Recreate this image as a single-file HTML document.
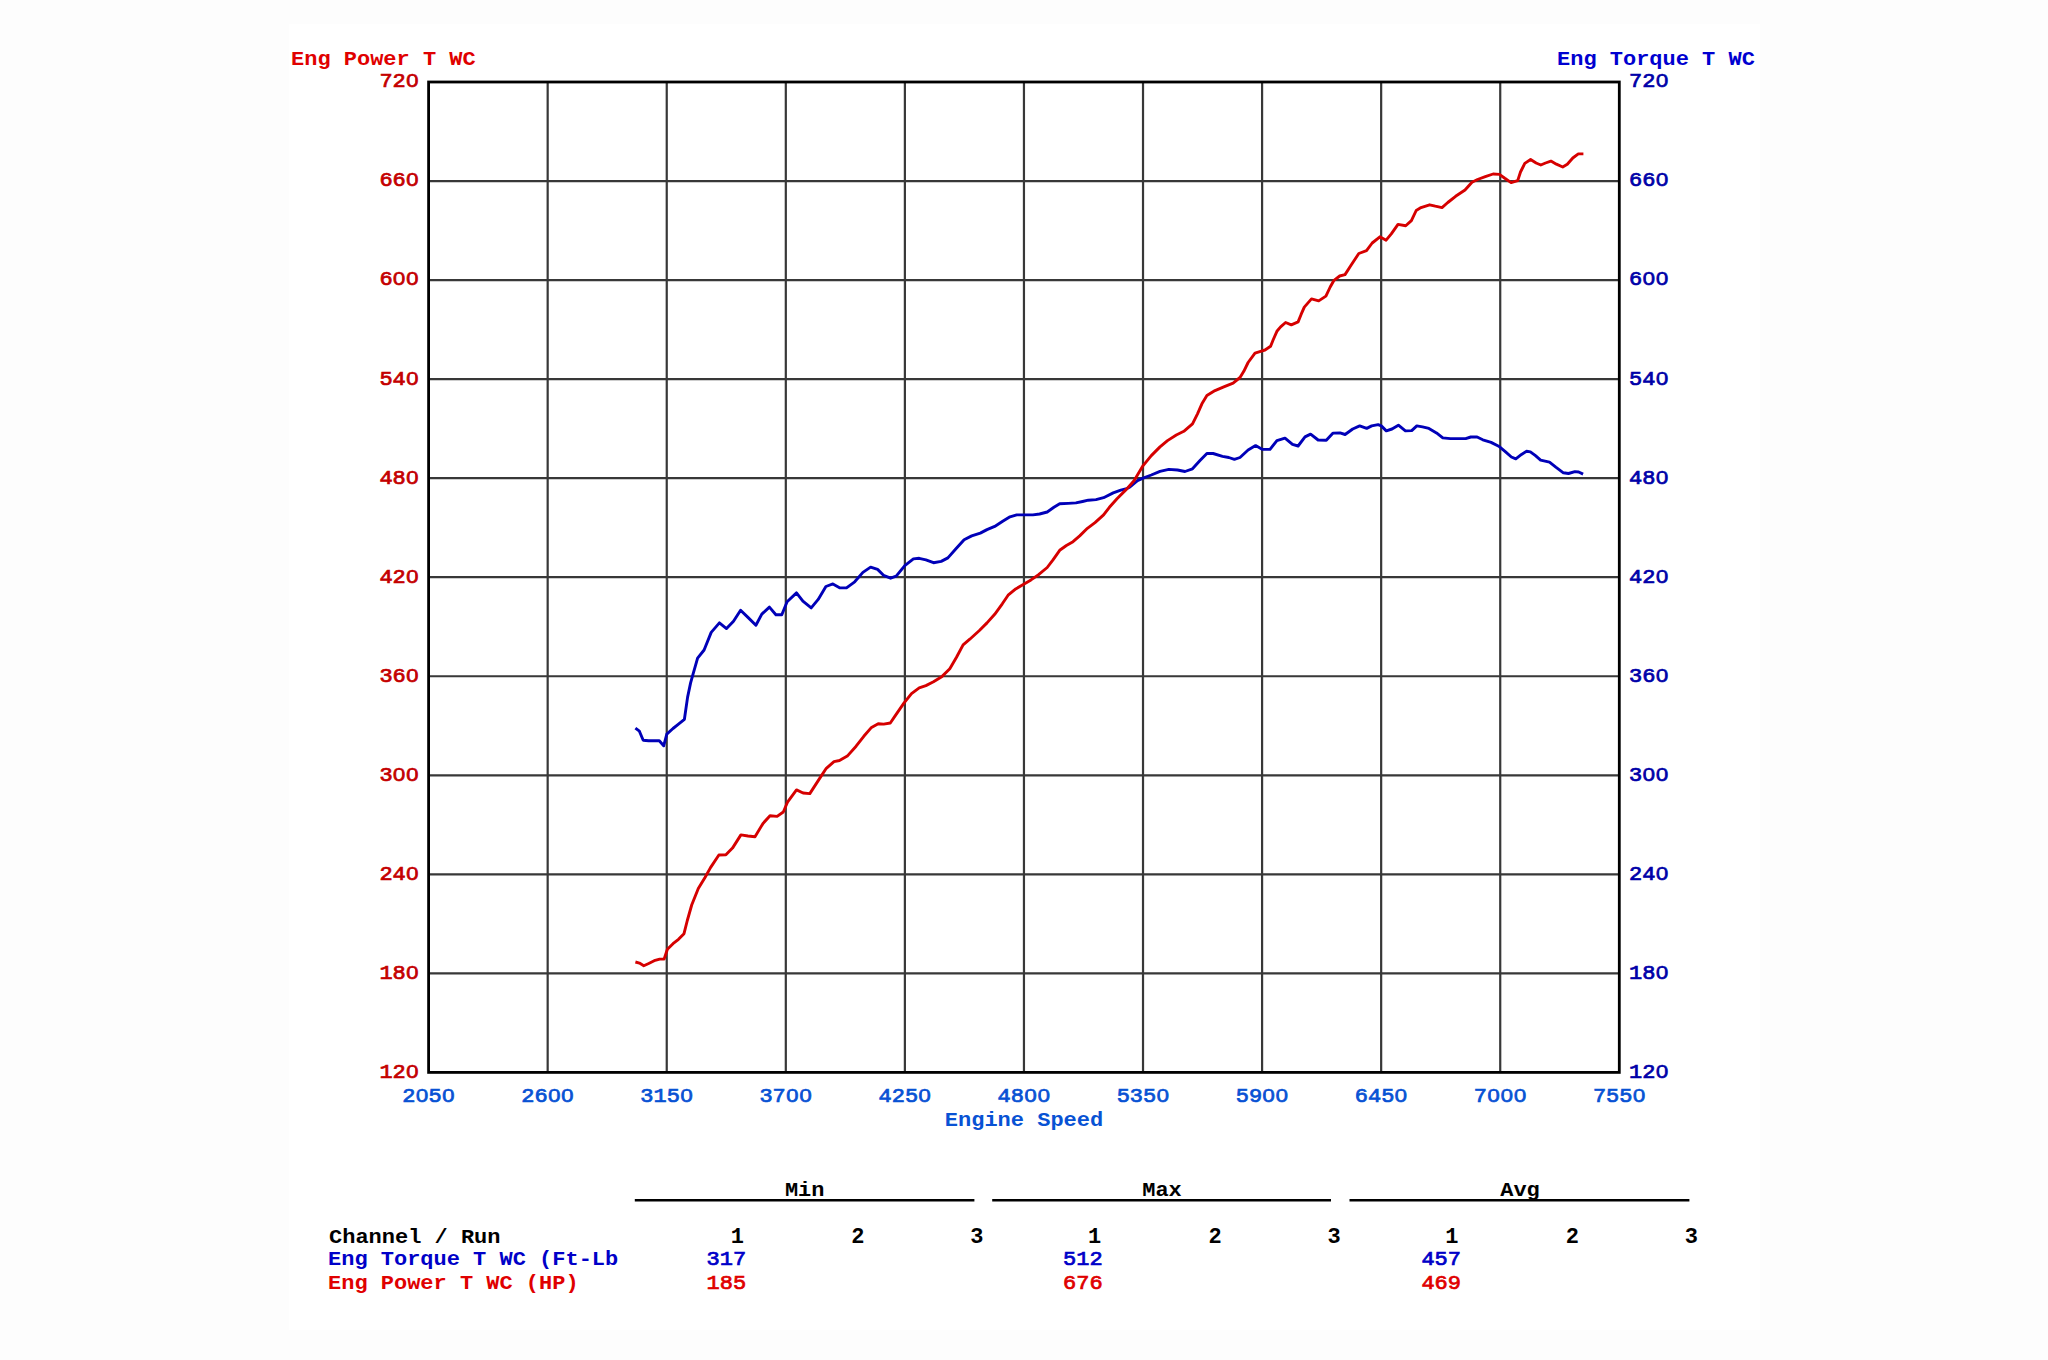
<!DOCTYPE html>
<html><head><meta charset="utf-8"><title>Dyno chart</title>
<style>html,body{margin:0;padding:0;background:#fff;width:2048px;height:1360px;overflow:hidden}svg{display:block}text{font-family:"Liberation Mono", monospace;font-weight:bold;font-size:22px}</style>
</head><body>
<svg width="2048" height="1360" viewBox="0 0 2048 1360">
<rect x="0" y="0" width="2048" height="1360" fill="#fdfdfd"/>
<rect x="289" y="24" width="1471" height="1306" fill="#ffffff"/>
<path d="M547.67 82.00V1072.40M428.60 181.04H1619.30M666.74 82.00V1072.40M428.60 280.08H1619.30M785.81 82.00V1072.40M428.60 379.12H1619.30M904.88 82.00V1072.40M428.60 478.16H1619.30M1023.95 82.00V1072.40M428.60 577.20H1619.30M1143.02 82.00V1072.40M428.60 676.24H1619.30M1262.09 82.00V1072.40M428.60 775.28H1619.30M1381.16 82.00V1072.40M428.60 874.32H1619.30M1500.23 82.00V1072.40M428.60 973.36H1619.30" stroke="#383838" stroke-width="2.2" fill="none"/>
<rect x="428.60" y="82.00" width="1190.70" height="990.40" stroke="#000" stroke-width="2.8" fill="none"/>
<polyline points="635.4,728.1 639.4,731.2 643.2,740.2 648.7,740.7 659.3,740.7 663.7,745.8 666.8,734.1 673.0,728.5 678.5,724.1 684.4,719.3 687.6,697.1 690.6,682.9 692.9,674.7 697.6,658.2 704.1,650.0 711.2,632.4 719.4,622.9 726.5,628.6 733.5,621.2 740.6,610.2 748.2,617.6 755.9,625.3 761.8,614.1 769.4,607.1 775.9,614.7 781.8,614.7 787.1,601.8 796.5,592.9 802.9,601.2 811.2,607.9 818.2,599.4 825.9,586.5 832.9,583.9 840.0,587.9 846.5,587.9 854.7,581.8 862.9,572.4 870.6,567.1 877.6,569.4 883.5,575.3 890.6,578.2 896.2,576.1 904.8,565.6 913.4,558.9 919.2,558.3 925.9,559.8 933.5,562.7 941.2,561.4 947.9,557.9 955.5,549.3 964.1,539.8 971.7,535.9 980.3,533.1 987.0,529.6 994.7,526.4 1002.3,521.6 1010.0,516.8 1016.7,514.9 1025.3,514.9 1032.9,514.9 1039.6,514.0 1047.2,512.0 1053.9,507.3 1059.7,503.8 1068.3,503.4 1075.9,502.9 1082.6,501.5 1088.3,500.2 1096.0,499.6 1103.6,497.7 1113.2,492.9 1120.8,490.1 1126.6,488.7 1130.0,486.9 1137.5,480.6 1143.1,478.1 1151.3,475.0 1160.0,471.3 1168.8,469.4 1177.5,470.0 1185.0,471.5 1192.5,468.8 1200.0,460.6 1206.9,453.5 1213.1,453.5 1222.5,456.3 1228.8,457.5 1234.4,459.4 1240.0,457.5 1248.1,450.0 1255.6,445.6 1262.5,449.4 1270.0,449.4 1276.9,440.6 1285.0,438.1 1292.5,444.4 1298.1,446.0 1305.0,436.9 1310.6,434.1 1318.1,440.0 1326.3,440.3 1333.1,433.1 1340.0,432.9 1345.1,434.5 1352.7,429.0 1359.7,425.9 1366.7,428.4 1371.7,425.9 1378.1,424.6 1381.3,425.9 1386.3,430.9 1392.0,429.0 1398.4,425.2 1405.4,430.9 1411.7,430.6 1416.8,425.9 1422.5,426.9 1428.9,428.4 1436.5,432.9 1442.8,437.9 1450.4,438.6 1465.7,438.6 1470.8,437.0 1477.1,437.0 1482.8,439.8 1491.1,442.4 1498.7,446.2 1505.0,451.3 1511.4,457.0 1515.8,458.9 1521.5,454.4 1526.6,451.3 1530.4,451.9 1535.5,455.7 1540.6,460.1 1549.5,462.1 1555.8,467.1 1563.4,472.8 1568.5,473.5 1574.9,471.6 1578.7,472.0 1583.1,474.1" stroke="#0000b8" stroke-width="2.9" fill="none" stroke-linejoin="round" stroke-linecap="butt"/>
<polyline points="635.4,962.0 639.4,963.1 643.8,965.7 648.7,963.5 654.2,960.7 659.7,959.1 664.1,959.1 667.4,949.2 673.0,943.7 678.5,939.3 684.0,933.7 687.3,920.5 691.7,905.0 698.3,888.5 705.0,877.5 710.5,867.6 718.9,855.0 725.9,854.8 732.5,848.1 740.9,834.9 748.0,836.0 755.0,836.7 763.0,823.4 770.0,815.7 777.1,816.4 783.3,812.0 787.7,801.8 796.5,789.9 803.1,793.0 809.8,793.6 820.8,776.6 826.3,768.3 834.0,761.6 839.5,760.5 847.3,756.1 856.1,746.2 863.8,736.3 871.5,727.4 878.2,723.7 883.7,724.1 890.3,723.0 895.3,715.6 903.9,703.2 911.5,693.6 919.2,687.9 925.9,685.6 933.5,681.8 942.1,676.4 949.8,668.8 956.5,657.3 963.1,644.9 969.8,639.2 979.4,630.5 987.0,622.9 994.7,614.3 1002.3,603.8 1008.1,595.2 1015.7,588.9 1023.7,584.3 1031.0,579.9 1038.6,574.7 1047.2,567.5 1053.0,559.8 1059.7,550.3 1066.4,545.5 1073.0,541.7 1079.7,535.9 1087.4,528.3 1095.0,522.6 1103.6,514.9 1109.4,507.3 1117.0,498.7 1126.6,489.1 1134.2,480.5 1143.1,465.6 1151.3,455.6 1160.0,446.9 1167.5,440.6 1176.3,435.0 1183.8,431.3 1192.5,423.8 1197.5,413.8 1201.9,403.8 1206.9,395.6 1215.0,390.6 1223.8,386.9 1233.1,383.1 1240.0,377.5 1243.8,371.3 1248.1,362.5 1255.0,353.1 1260.6,351.3 1265.0,350.0 1270.6,346.3 1273.1,340.0 1276.9,331.3 1280.6,326.9 1285.6,322.5 1291.3,324.8 1298.1,321.9 1301.0,314.7 1304.3,307.1 1311.5,298.9 1318.7,300.9 1325.9,296.1 1330.2,287.0 1334.0,280.3 1339.7,276.0 1345.0,274.6 1351.2,265.0 1358.8,253.5 1366.5,250.7 1372.2,243.0 1379.9,236.8 1386.1,240.2 1391.3,233.9 1398.0,224.4 1405.7,225.8 1411.4,220.6 1416.2,210.5 1421.0,207.6 1429.6,204.8 1435.3,206.2 1442.0,207.6 1447.8,202.5 1455.6,196.3 1465.0,190.0 1472.0,182.2 1477.5,179.5 1485.3,176.7 1493.1,174.0 1499.4,174.4 1504.8,178.3 1511.1,182.6 1517.7,180.6 1520.5,172.0 1524.8,163.4 1530.6,159.5 1536.1,163.0 1540.8,165.0 1545.5,163.0 1550.9,161.1 1556.4,164.2 1562.7,167.0 1567.3,164.2 1572.8,158.0 1578.3,153.9 1583.4,153.9" stroke="#d60000" stroke-width="2.9" fill="none" stroke-linejoin="round" stroke-linecap="butt"/>
<text transform="translate(419.00,87.40) scale(1,0.93)" text-anchor="end" fill="#c40000" style="font-weight:normal" stroke="#c40000" stroke-width="0.8">720</text><rect x="409.98" y="77.41" width="4.80" height="5.79" fill="#fff"/>
<text transform="translate(1629.00,87.40) scale(1,0.93)" fill="#0000a8" style="font-weight:normal" stroke="#0000a8" stroke-width="0.8">720</text><rect x="1659.59" y="77.41" width="4.80" height="5.79" fill="#fff"/>
<text transform="translate(419.00,186.44) scale(1,0.93)" text-anchor="end" fill="#c40000" style="font-weight:normal" stroke="#c40000" stroke-width="0.8">660</text><rect x="409.98" y="176.45" width="4.80" height="5.79" fill="#fff"/>
<text transform="translate(1629.00,186.44) scale(1,0.93)" fill="#0000a8" style="font-weight:normal" stroke="#0000a8" stroke-width="0.8">660</text><rect x="1659.59" y="176.45" width="4.80" height="5.79" fill="#fff"/>
<text transform="translate(419.00,285.48) scale(1,0.93)" text-anchor="end" fill="#c40000" style="font-weight:normal" stroke="#c40000" stroke-width="0.8">600</text><rect x="396.78" y="275.49" width="4.80" height="5.79" fill="#fff"/><rect x="409.98" y="275.49" width="4.80" height="5.79" fill="#fff"/>
<text transform="translate(1629.00,285.48) scale(1,0.93)" fill="#0000a8" style="font-weight:normal" stroke="#0000a8" stroke-width="0.8">600</text><rect x="1646.39" y="275.49" width="4.80" height="5.79" fill="#fff"/><rect x="1659.59" y="275.49" width="4.80" height="5.79" fill="#fff"/>
<text transform="translate(419.00,384.52) scale(1,0.93)" text-anchor="end" fill="#c40000" style="font-weight:normal" stroke="#c40000" stroke-width="0.8">540</text><rect x="409.98" y="374.53" width="4.80" height="5.79" fill="#fff"/>
<text transform="translate(1629.00,384.52) scale(1,0.93)" fill="#0000a8" style="font-weight:normal" stroke="#0000a8" stroke-width="0.8">540</text><rect x="1659.59" y="374.53" width="4.80" height="5.79" fill="#fff"/>
<text transform="translate(419.00,483.56) scale(1,0.93)" text-anchor="end" fill="#c40000" style="font-weight:normal" stroke="#c40000" stroke-width="0.8">480</text><rect x="409.98" y="473.57" width="4.80" height="5.79" fill="#fff"/>
<text transform="translate(1629.00,483.56) scale(1,0.93)" fill="#0000a8" style="font-weight:normal" stroke="#0000a8" stroke-width="0.8">480</text><rect x="1659.59" y="473.57" width="4.80" height="5.79" fill="#fff"/>
<text transform="translate(419.00,582.60) scale(1,0.93)" text-anchor="end" fill="#c40000" style="font-weight:normal" stroke="#c40000" stroke-width="0.8">420</text><rect x="409.98" y="572.61" width="4.80" height="5.79" fill="#fff"/>
<text transform="translate(1629.00,582.60) scale(1,0.93)" fill="#0000a8" style="font-weight:normal" stroke="#0000a8" stroke-width="0.8">420</text><rect x="1659.59" y="572.61" width="4.80" height="5.79" fill="#fff"/>
<text transform="translate(419.00,681.64) scale(1,0.93)" text-anchor="end" fill="#c40000" style="font-weight:normal" stroke="#c40000" stroke-width="0.8">360</text><rect x="409.98" y="671.65" width="4.80" height="5.79" fill="#fff"/>
<text transform="translate(1629.00,681.64) scale(1,0.93)" fill="#0000a8" style="font-weight:normal" stroke="#0000a8" stroke-width="0.8">360</text><rect x="1659.59" y="671.65" width="4.80" height="5.79" fill="#fff"/>
<text transform="translate(419.00,780.68) scale(1,0.93)" text-anchor="end" fill="#c40000" style="font-weight:normal" stroke="#c40000" stroke-width="0.8">300</text><rect x="396.78" y="770.69" width="4.80" height="5.79" fill="#fff"/><rect x="409.98" y="770.69" width="4.80" height="5.79" fill="#fff"/>
<text transform="translate(1629.00,780.68) scale(1,0.93)" fill="#0000a8" style="font-weight:normal" stroke="#0000a8" stroke-width="0.8">300</text><rect x="1646.39" y="770.69" width="4.80" height="5.79" fill="#fff"/><rect x="1659.59" y="770.69" width="4.80" height="5.79" fill="#fff"/>
<text transform="translate(419.00,879.72) scale(1,0.93)" text-anchor="end" fill="#c40000" style="font-weight:normal" stroke="#c40000" stroke-width="0.8">240</text><rect x="409.98" y="869.73" width="4.80" height="5.79" fill="#fff"/>
<text transform="translate(1629.00,879.72) scale(1,0.93)" fill="#0000a8" style="font-weight:normal" stroke="#0000a8" stroke-width="0.8">240</text><rect x="1659.59" y="869.73" width="4.80" height="5.79" fill="#fff"/>
<text transform="translate(419.00,978.76) scale(1,0.93)" text-anchor="end" fill="#c40000" style="font-weight:normal" stroke="#c40000" stroke-width="0.8">180</text><rect x="409.98" y="968.77" width="4.80" height="5.79" fill="#fff"/>
<text transform="translate(1629.00,978.76) scale(1,0.93)" fill="#0000a8" style="font-weight:normal" stroke="#0000a8" stroke-width="0.8">180</text><rect x="1659.59" y="968.77" width="4.80" height="5.79" fill="#fff"/>
<text transform="translate(419.00,1077.80) scale(1,0.93)" text-anchor="end" fill="#c40000" style="font-weight:normal" stroke="#c40000" stroke-width="0.8">120</text><rect x="409.98" y="1067.81" width="4.80" height="5.79" fill="#fff"/>
<text transform="translate(1629.00,1077.80) scale(1,0.93)" fill="#0000a8" style="font-weight:normal" stroke="#0000a8" stroke-width="0.8">120</text><rect x="1659.59" y="1067.81" width="4.80" height="5.79" fill="#fff"/>
<text transform="translate(428.60,1101.60) scale(1,0.93)" text-anchor="middle" fill="#0852d4" style="font-weight:normal" stroke="#0852d4" stroke-width="0.8">2050</text><rect x="419.58" y="1091.61" width="4.80" height="5.79" fill="#fff"/><rect x="445.99" y="1091.61" width="4.80" height="5.79" fill="#fff"/>
<text transform="translate(547.67,1101.60) scale(1,0.93)" text-anchor="middle" fill="#0852d4" style="font-weight:normal" stroke="#0852d4" stroke-width="0.8">2600</text><rect x="551.86" y="1091.61" width="4.80" height="5.79" fill="#fff"/><rect x="565.06" y="1091.61" width="4.80" height="5.79" fill="#fff"/>
<text transform="translate(666.74,1101.60) scale(1,0.93)" text-anchor="middle" fill="#0852d4" style="font-weight:normal" stroke="#0852d4" stroke-width="0.8">3150</text><rect x="684.13" y="1091.61" width="4.80" height="5.79" fill="#fff"/>
<text transform="translate(785.81,1101.60) scale(1,0.93)" text-anchor="middle" fill="#0852d4" style="font-weight:normal" stroke="#0852d4" stroke-width="0.8">3700</text><rect x="790.00" y="1091.61" width="4.80" height="5.79" fill="#fff"/><rect x="803.20" y="1091.61" width="4.80" height="5.79" fill="#fff"/>
<text transform="translate(904.88,1101.60) scale(1,0.93)" text-anchor="middle" fill="#0852d4" style="font-weight:normal" stroke="#0852d4" stroke-width="0.8">4250</text><rect x="922.27" y="1091.61" width="4.80" height="5.79" fill="#fff"/>
<text transform="translate(1023.95,1101.60) scale(1,0.93)" text-anchor="middle" fill="#0852d4" style="font-weight:normal" stroke="#0852d4" stroke-width="0.8">4800</text><rect x="1028.14" y="1091.61" width="4.80" height="5.79" fill="#fff"/><rect x="1041.34" y="1091.61" width="4.80" height="5.79" fill="#fff"/>
<text transform="translate(1143.02,1101.60) scale(1,0.93)" text-anchor="middle" fill="#0852d4" style="font-weight:normal" stroke="#0852d4" stroke-width="0.8">5350</text><rect x="1160.41" y="1091.61" width="4.80" height="5.79" fill="#fff"/>
<text transform="translate(1262.09,1101.60) scale(1,0.93)" text-anchor="middle" fill="#0852d4" style="font-weight:normal" stroke="#0852d4" stroke-width="0.8">5900</text><rect x="1266.28" y="1091.61" width="4.80" height="5.79" fill="#fff"/><rect x="1279.48" y="1091.61" width="4.80" height="5.79" fill="#fff"/>
<text transform="translate(1381.16,1101.60) scale(1,0.93)" text-anchor="middle" fill="#0852d4" style="font-weight:normal" stroke="#0852d4" stroke-width="0.8">6450</text><rect x="1398.55" y="1091.61" width="4.80" height="5.79" fill="#fff"/>
<text transform="translate(1500.23,1101.60) scale(1,0.93)" text-anchor="middle" fill="#0852d4" style="font-weight:normal" stroke="#0852d4" stroke-width="0.8">7000</text><rect x="1491.21" y="1091.61" width="4.80" height="5.79" fill="#fff"/><rect x="1504.42" y="1091.61" width="4.80" height="5.79" fill="#fff"/><rect x="1517.62" y="1091.61" width="4.80" height="5.79" fill="#fff"/>
<text transform="translate(1619.30,1101.60) scale(1,0.93)" text-anchor="middle" fill="#0852d4" style="font-weight:normal" stroke="#0852d4" stroke-width="0.8">7550</text><rect x="1636.69" y="1091.61" width="4.80" height="5.79" fill="#fff"/>
<text transform="translate(1024.00,1125.80) scale(1,0.91)" text-anchor="middle" fill="#0852d4">Engine Speed</text>
<text transform="translate(291.00,64.90) scale(1,0.91)" fill="#e00000">Eng Power T WC</text>
<text transform="translate(1557.00,64.90) scale(1,0.91)" fill="#0000d0">Eng Torque T WC</text>
<text transform="translate(804.70,1196.00) scale(1,0.91)" text-anchor="middle" fill="#000">Min</text>
<path d="M634.8 1200.2H974.4" stroke="#000" stroke-width="2.6"/>
<text transform="translate(1162.00,1196.00) scale(1,0.91)" text-anchor="middle" fill="#000">Max</text>
<path d="M992.2 1200.2H1331" stroke="#000" stroke-width="2.6"/>
<text transform="translate(1520.00,1196.00) scale(1,0.91)" text-anchor="middle" fill="#000">Avg</text>
<path d="M1349.5 1200.2H1689.4" stroke="#000" stroke-width="2.6"/>
<text transform="translate(329.00,1242.70) scale(1,0.91)" fill="#000">Channel / Run</text>
<text transform="translate(328.00,1265.30) scale(1,0.91)" fill="#0000c8">Eng Torque T WC (Ft-Lb</text>
<text transform="translate(328.00,1288.80) scale(1,0.91)" fill="#e00000">Eng Power T WC (HP)</text>
<text transform="translate(743.90,1242.70) scale(1,0.97)" text-anchor="end" fill="#000">1</text>
<text transform="translate(864.40,1242.70) scale(1,0.97)" text-anchor="end" fill="#000">2</text>
<text transform="translate(983.40,1242.70) scale(1,0.97)" text-anchor="end" fill="#000">3</text>
<text transform="translate(1101.10,1242.70) scale(1,0.97)" text-anchor="end" fill="#000">1</text>
<text transform="translate(1221.60,1242.70) scale(1,0.97)" text-anchor="end" fill="#000">2</text>
<text transform="translate(1340.60,1242.70) scale(1,0.97)" text-anchor="end" fill="#000">3</text>
<text transform="translate(1458.50,1242.70) scale(1,0.97)" text-anchor="end" fill="#000">1</text>
<text transform="translate(1579.00,1242.70) scale(1,0.97)" text-anchor="end" fill="#000">2</text>
<text transform="translate(1698.00,1242.70) scale(1,0.97)" text-anchor="end" fill="#000">3</text>
<text transform="translate(746.20,1265.30) scale(1,0.93)" text-anchor="end" fill="#0000c8" style="font-weight:normal" stroke="#0000c8" stroke-width="0.8">317</text>
<text transform="translate(746.20,1288.80) scale(1,0.93)" text-anchor="end" fill="#e00000" style="font-weight:normal" stroke="#e00000" stroke-width="0.8">185</text>
<text transform="translate(1102.60,1265.30) scale(1,0.93)" text-anchor="end" fill="#0000c8" style="font-weight:normal" stroke="#0000c8" stroke-width="0.8">512</text>
<text transform="translate(1102.60,1288.80) scale(1,0.93)" text-anchor="end" fill="#e00000" style="font-weight:normal" stroke="#e00000" stroke-width="0.8">676</text>
<text transform="translate(1461.00,1265.30) scale(1,0.93)" text-anchor="end" fill="#0000c8" style="font-weight:normal" stroke="#0000c8" stroke-width="0.8">457</text>
<text transform="translate(1461.00,1288.80) scale(1,0.93)" text-anchor="end" fill="#e00000" style="font-weight:normal" stroke="#e00000" stroke-width="0.8">469</text>
</svg></body></html>
